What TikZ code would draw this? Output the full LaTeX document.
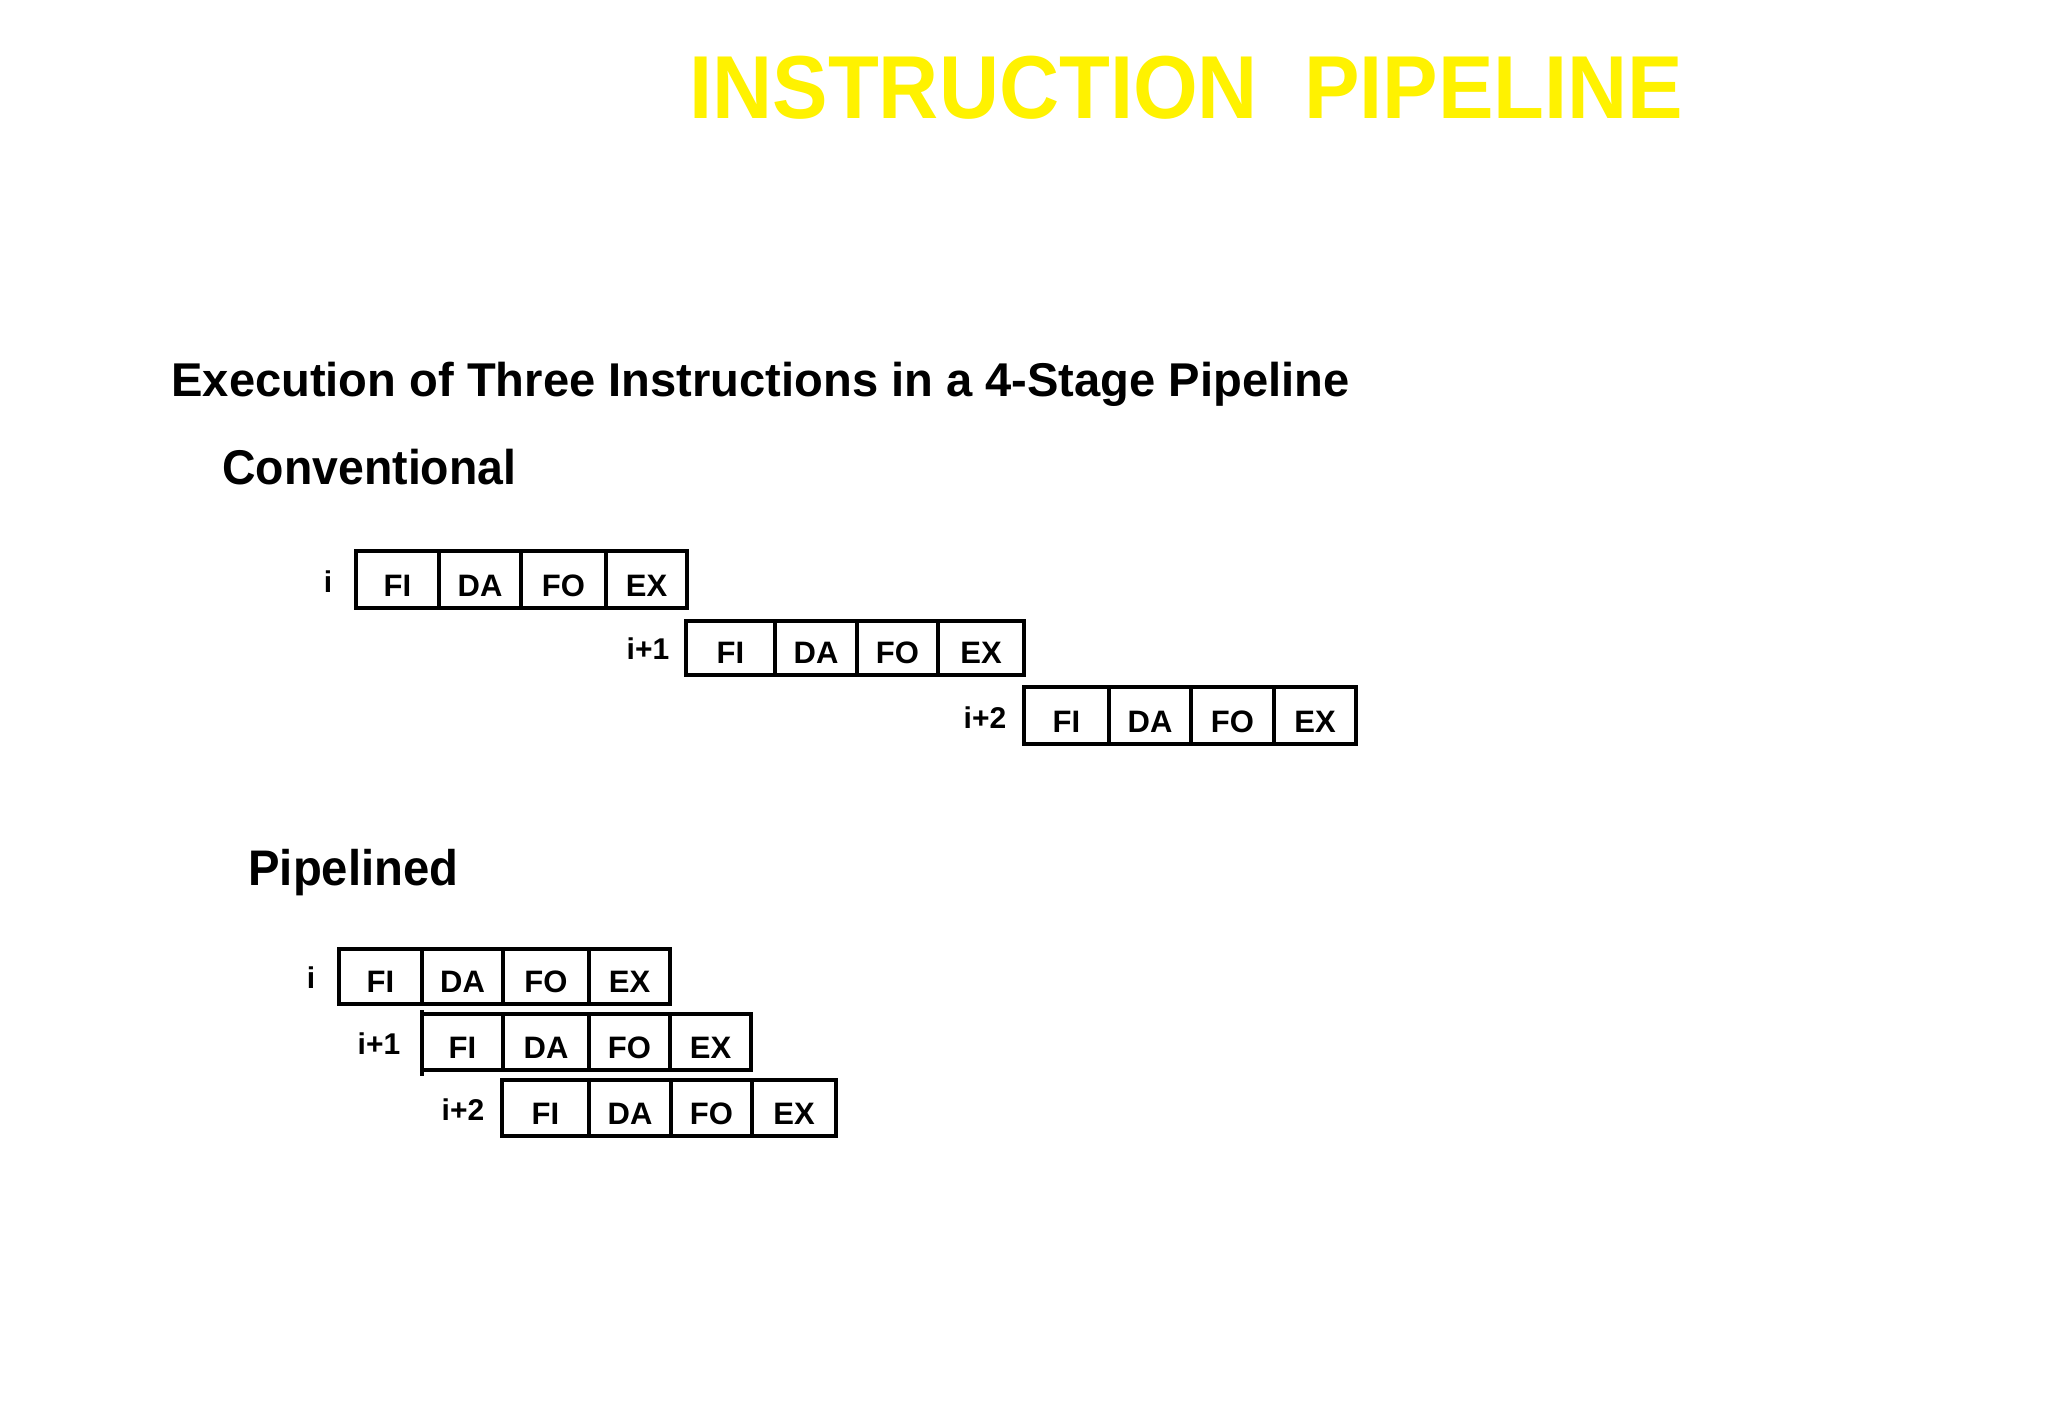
\documentclass[tikz,border=0pt]{standalone}
\usepackage{graphicx}
\usepackage{fontspec}
\setmainfont{Liberation Sans}
\newcommand\fitw[2]{\resizebox{#1}{\height}{#2}}
\tikzset{
  boxline/.style={line width=1.8pt, line join=miter},
  cellt/.style={anchor=base, inner sep=0pt, font=\fontsize{15.5pt}{18pt}\selectfont\bfseries},
  rowlab/.style={anchor=base, inner sep=0pt, font=\fontsize{15pt}{18pt}\selectfont\bfseries},
  head/.style={anchor=base west, inner sep=0pt, font=\bfseries},
}
\begin{document}
\begin{tikzpicture}[x=0.5pt,y=-0.5pt]
\useasboundingbox (0,0) rectangle (2048,1418);
\fill[white] (0,0) rectangle (2048,1418);
% title
\node[head, text=yellow!100] (title) at (689,119) {\fontsize{44.7pt}{50pt}\selectfont\fitw{497pt}{INSTRUCTION\ \ PIPELINE}};
\node[head] (sub) at (171,396) {\fontsize{23.7pt}{28pt}\selectfont\fitw{589pt}{Execution of Three Instructions in a 4-Stage Pipeline}};
\node[head] (conv) at (222,484) {\fontsize{24.4pt}{28pt}\selectfont\fitw{147pt}{Conventional}};
\node[head] (pipe) at (248,885) {\fontsize{25pt}{28pt}\selectfont\fitw{105pt}{Pipelined}};
% rows
\foreach \nm/\lab/\lx/\xa/\xb/\xc/\xd/\xe/\yt/\yb in {
  ca/i/328/356/439/521/606/687/551/608,
  cb/i+1/648/686/775/857/938/1024/621/675,
  cc/i+2/985/1024/1109/1191/1274/1356/687/744,
  pa/i/311/339/422/503/589/670/949/1004,
  pb/i+1/379/422/503/589/670/751/1014/1070,
  pc/i+2/463/502/589/671/752/836/1080/1136}{
  \draw[boxline] (\xa,\yt) rectangle (\xe,\yb);
  \draw[boxline] (\xb,\yt) -- (\xb,\yb) (\xc,\yt) -- (\xc,\yb) (\xd,\yt) -- (\xd,\yb);
  \node[cellt] (\nm-fi) at ({(\xa+\xb)/2},{\yb-12}) {FI};
  \node[cellt] (\nm-da) at ({(\xb+\xc)/2},{\yb-12}) {DA};
  \node[cellt] (\nm-fo) at ({(\xc+\xd)/2},{\yb-12}) {FO};
  \node[cellt] (\nm-ex) at ({(\xd+\xe)/2},{\yb-12}) {EX};
  \node[rowlab] (\nm-lab) at (\lx,{\yb-16}) {\lab};
}
\draw[boxline] (422,1010) -- (422,1076);
\end{tikzpicture}
\end{document}
